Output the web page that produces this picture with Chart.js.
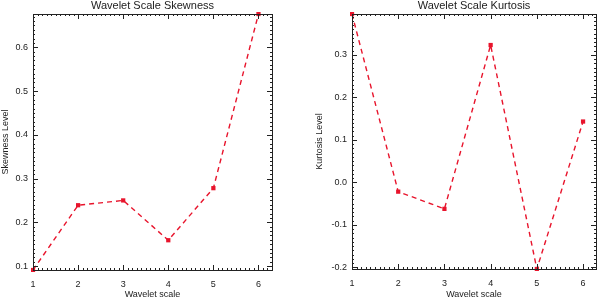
<!DOCTYPE html>
<html>
<head>
<meta charset="utf-8">
<script src="https://cdn.jsdelivr.net/npm/chart.js@4/dist/chart.umd.min.js"></script>
<style>
  body { margin: 0; background: #fff; }
  .fila { display: flex; width: 600px; height: 300px; }
  canvas { display: block; }
</style>
</head>
<body>
<div class="fila">
  <canvas id="grafico1" width="300" height="300"></canvas>
  <canvas id="grafico2" width="300" height="300"></canvas>
</div>
<script>
const escalas = [1, 2, 3, 4, 5, 6];
const sesgo = [0.091, 0.239, 0.250, 0.159, 0.278, 0.676];
const curtosis = [0.396, -0.022, -0.0625, 0.323, -0.204, 0.143];
const ticksSesgo = [0.1, 0.2, 0.3, 0.4, 0.5, 0.6];
const ticksCurtosis = [-0.2, -0.1, 0.0, 0.1, 0.2, 0.3];

const rojo = '#e8142c';
const tinta = '#222';
const fuente = '"Liberation Sans", Arial, sans-serif';

// marco con ticks hacia adentro en los cuatro lados (estilo IDL)
const marcoEjes = {
  id: 'marcoEjes',
  afterDraw(chart, args, opts) {
    const ctx = chart.ctx;
    const a = chart.chartArea;
    const x = chart.scales.x, y = chart.scales.y;
    ctx.save();
    ctx.strokeStyle = tinta;
    ctx.lineWidth = 1;
    ctx.strokeRect(Math.round(a.left) + 0.5, Math.round(a.top) + 0.5,
      Math.round(a.right - a.left), Math.round(a.bottom - a.top));
    ctx.beginPath();
    for (let v = Math.ceil(x.min * 10); v <= x.max * 10; v++) {
      const px = Math.round(x.getPixelForValue(v / 10)) + 0.5;
      const largo = v % 10 === 0 ? 5 : 2;
      ctx.moveTo(px, a.bottom); ctx.lineTo(px, a.bottom - largo);
      ctx.moveTo(px, a.top); ctx.lineTo(px, a.top + largo);
    }
    for (let v = Math.ceil(y.min * 100); v <= y.max * 100; v++) {
      const py = Math.round(y.getPixelForValue(v / 100)) + 0.5;
      const largo = v % 10 === 0 ? 5 : 2;
      ctx.moveTo(a.left, py); ctx.lineTo(a.left + largo, py);
      ctx.moveTo(a.right, py); ctx.lineTo(a.right - largo, py);
    }
    ctx.stroke();
    ctx.restore();
  }
};

function crearGrafico(lienzo, titulo, tituloY, valores, ticksY, cfg) {
  return new Chart(lienzo, {
    type: 'line',
    data: {
      datasets: [{
        data: escalas.map((e, i) => ({ x: e, y: valores[i] })),
        borderColor: rojo,
        borderWidth: 1.4,
        borderDash: [5, 4],
        pointStyle: 'rect',
        pointRadius: 3,
        pointBorderWidth: 0,
        pointBackgroundColor: rojo,
        tension: 0,
        clip: 2
      }]
    },
    plugins: [marcoEjes],
    options: {
      responsive: false,
      animation: false,
      layout: { padding: { left: 0, right: cfg.derecha, top: 0, bottom: 0 } },
      plugins: {
        legend: { display: false },
        tooltip: { enabled: false },
        title: {
          display: true,
          fullSize: false,
          text: titulo,
          color: tinta,
          font: { family: fuente, size: 11, weight: 'normal', lineHeight: 1 },
          padding: { top: 0, bottom: 3 }
        }
      },
      scales: {
        x: {
          type: 'linear',
          min: 1,
          max: cfg.maxX,
          afterBuildTicks: s => { s.ticks = escalas.map(v => ({ value: v })); },
          afterFit: s => { s.height = cfg.altoX; },
          grid: { display: false, drawTicks: false },
          border: { display: false },
          ticks: { color: tinta, padding: 9, maxRotation: 0, font: { family: fuente, size: 9 } },
          title: {
            display: true, text: 'Wavelet scale', color: tinta,
            font: { family: fuente, size: 9 }, padding: { top: 0, bottom: 0 }
          }
        },
        y: {
          type: 'linear',
          min: cfg.minY,
          max: cfg.maxY,
          afterBuildTicks: s => { s.ticks = ticksY.map(v => ({ value: v })); },
          afterFit: s => { s.width = cfg.anchoY; },
          grid: { display: false, drawTicks: false },
          border: { display: false },
          ticks: {
            color: tinta, padding: 5, font: { family: fuente, size: 9 },
            callback: v => v.toFixed(1)
          },
          title: {
            display: true, text: tituloY, color: tinta,
            font: { family: fuente, size: 9 }, padding: { top: cfg.padTituloY, bottom: 0 }
          }
        }
      }
    }
  });
}

document.addEventListener("DOMContentLoaded", () => {
  crearGrafico(document.querySelector('#grafico1'), 'Wavelet Scale Skewness', 'Skewness Level',
    sesgo, ticksSesgo,
    { derecha: 28, maxX: 6.3, minY: 0.091, maxY: 0.676, altoX: 30, anchoY: 33, padTituloY: 0 });
  crearGrafico(document.querySelector('#grafico2'), 'Wavelet Scale Kurtosis', 'Kurtosis Level',
    curtosis, ticksCurtosis,
    { derecha: 2, maxX: 6.28, minY: -0.204, maxY: 0.396, altoX: 31, anchoY: 52, padTituloY: 14.6 });
});
</script>
</body>
</html>
